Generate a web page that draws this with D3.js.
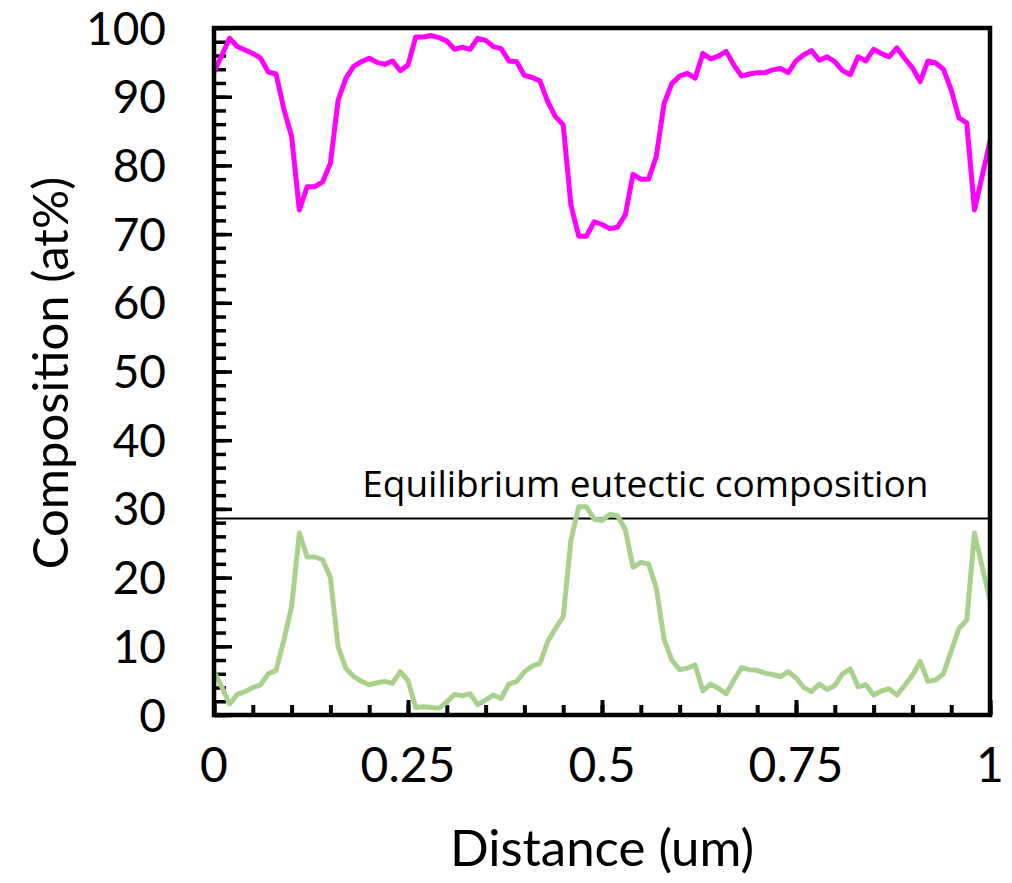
<!DOCTYPE html>
<html>
<head>
<meta charset="utf-8">
<script src="https://cdn.jsdelivr.net/npm/d3@7"></script>
<style>
  body { margin: 0; background: #fff; }
</style>
</head>
<body>
<script>
// Data
const distance = d3.range(101).map(i => i / 100);

const mainPhase = [
  93.6, 96.0, 98.5, 97.3, 96.8, 96.3, 95.6, 93.6, 93.3, 88.2,
  84.2, 73.5, 76.9, 76.9, 77.6, 80.3, 89.5, 92.7, 94.4, 95.1,
  95.6, 95.0, 94.7, 95.2, 93.8, 94.6, 98.7, 98.7, 98.9, 98.6,
  98.1, 96.9, 97.2, 96.9, 98.5, 98.2, 97.3, 97.0, 95.2, 95.1,
  93.1, 92.8, 92.3, 89.3, 87.1, 85.9, 74.2, 69.7, 69.7, 71.8,
  71.4, 70.8, 71.0, 72.8, 78.7, 78.0, 78.0, 81.3, 89.0, 91.9,
  93.0, 93.4, 92.7, 96.3, 95.5, 95.9, 96.6, 94.6, 93.0, 93.3,
  93.5, 93.5, 93.9, 94.1, 93.5, 95.2, 96.1, 96.7, 95.3, 95.8,
  95.1, 93.8, 93.2, 95.8, 95.2, 96.9, 96.3, 95.8, 97.1, 95.6,
  94.2, 92.2, 95.2, 94.9, 94.0, 91.0, 86.9, 86.2, 73.5, 78.5,
  83.5
];

const minorPhase = [
  6.3, 4.1, 1.6, 3.0, 3.4, 4.0, 4.4, 6.0, 6.5, 10.9,
  15.8, 26.5, 23.0, 23.0, 22.6, 20.0, 9.9, 6.8, 5.6, 4.9,
  4.4, 4.7, 4.9, 4.6, 6.3, 5.0, 1.1, 1.2, 1.1, 1.0,
  1.9, 3.0, 2.8, 3.1, 1.5, 2.2, 2.9, 2.4, 4.5, 4.9,
  6.3, 7.1, 7.5, 10.7, 12.6, 14.3, 25.5, 30.3, 30.3, 28.5,
  28.3, 29.2, 29.0, 27.0, 21.5, 22.2, 22.0, 18.5, 11.0, 8.0,
  6.6, 6.8, 7.3, 3.5, 4.5, 3.9, 3.1, 5.1, 6.9, 6.6,
  6.5, 6.1, 5.9, 5.6, 6.3, 5.4, 4.0, 3.4, 4.5, 3.7,
  4.3, 6.0, 6.7, 4.1, 4.4, 2.9, 3.5, 3.8, 2.9, 4.3,
  5.8, 7.8, 4.9, 5.1, 6.0, 9.3, 12.6, 13.8, 26.5, 21.5,
  16.7
];

const eutectic = 28.6;
const eutecticLabel = 'Equilibrium eutectic composition';

const xTicks = [0, 0.25, 0.5, 0.75, 1];
const xTickLabels = ['0', '0.25', '0.5', '0.75', '1'];
const yTicks = d3.range(0, 101, 10);

// SVG setup
const width = 1012;
const height = 883;
const margin = { top: 28, right: 22, bottom: 168, left: 214 };
const innerW = width - margin.left - margin.right;
const innerH = height - margin.top - margin.bottom;

const font = 'Lato, "Open Sans", sans-serif';

const svg = d3.select('body')
.append('svg')
.attr('width', width)
.attr('height', height);

const g = svg.append('g')
.attr('transform', `translate(${margin.left},${margin.top})`);

const xScale = d3.scaleLinear()
.domain([0, 1])
.range([0, innerW]);

const yScale = d3.scaleLinear()
.domain([0, 100])
.range([innerH, 0]);

// Minor / major ticks drawn inward
const yAxisMinor = d3.axisRight(yScale)
.tickValues(d3.range(0, 101, 2))
.tickSize(12)
.tickFormat('');

const yAxisMajor = d3.axisRight(yScale)
.tickValues(yTicks)
.tickSize(18)
.tickFormat('');

const xAxisMinor = d3.axisTop(xScale)
.tickValues(d3.range(0, 21).map(i => i / 20))
.tickSize(10)
.tickFormat('');

const xAxisMajor = d3.axisTop(xScale)
.tickValues(xTicks)
.tickSize(15)
.tickFormat('');

[yAxisMinor, yAxisMajor].forEach(ax => {
    g.append('g').call(ax)
    .call(s => s.select('.domain').remove())
    .selectAll('line')
    .attr('stroke', '#000')
    .attr('stroke-width', 3.5);
});

[xAxisMinor, xAxisMajor].forEach(ax => {
    g.append('g')
    .attr('transform', `translate(0,${innerH})`)
    .call(ax)
    .call(s => s.select('.domain').remove())
    .selectAll('line')
    .attr('stroke', '#000')
    .attr('stroke-width', 4);
});

// Tick labels
g.selectAll('.ylab')
.data(yTicks)
.enter()
.append('text')
.attr('class', 'ylab')
.attr('x', -48)
.attr('y', d => yScale(d))
.attr('dy', '0.36em')
.attr('text-anchor', 'end')
.attr('font-family', font)
.attr('font-size', '46px')
.attr('fill', '#000')
.text(d => d);

g.selectAll('.xlab')
.data(xTicks)
.enter()
.append('text')
.attr('class', 'xlab')
.attr('x', d => xScale(d))
.attr('y', innerH + 67)
.attr('text-anchor', 'middle')
.attr('font-family', font)
.attr('font-size', '48px')
.attr('fill', '#000')
.text((d, i) => xTickLabels[i]);

// Eutectic line and label
g.append('line')
.attr('x1', 0)
.attr('x2', innerW)
.attr('y1', yScale(eutectic))
.attr('y2', yScale(eutectic))
.attr('stroke', '#000')
.attr('stroke-width', 2);

g.append('text')
.attr('x', xScale(0.191))
.attr('y', yScale(eutectic) - 22)
.attr('font-family', '"Open Sans", sans-serif')
.attr('font-size', '37px')
.attr('fill', '#000')
.text(eutecticLabel);

// Lines
const line = d3.line()
.x((d, i) => xScale(distance[i]))
.y(d => yScale(d));

g.append('path')
.datum(minorPhase)
.attr('fill', 'none')
.attr('stroke', '#A9D18E')
.attr('stroke-width', 5)
.attr('stroke-linejoin', 'round')
.attr('d', line);

g.append('path')
.datum(mainPhase)
.attr('fill', 'none')
.attr('stroke', '#FF00FF')
.attr('stroke-width', 5)
.attr('stroke-linejoin', 'round')
.attr('d', line);

// Frame
g.append('rect')
.attr('x', 0)
.attr('y', 0)
.attr('width', innerW)
.attr('height', innerH)
.attr('fill', 'none')
.attr('stroke', '#000')
.attr('stroke-width', 4.5);

// Axis titles
svg.append('text')
.attr('x', margin.left + innerW / 2)
.attr('y', 866)
.attr('text-anchor', 'middle')
.attr('font-family', font)
.attr('font-size', '51px')
.attr('fill', '#000')
.text('Distance (um)');

svg.append('text')
.attr('transform', 'translate(68,373) rotate(-90)')
.attr('text-anchor', 'middle')
.attr('font-family', font)
.attr('font-size', '49px')
.attr('fill', '#000')
.text('Composition (at%)');
</script>
</body>
</html>
